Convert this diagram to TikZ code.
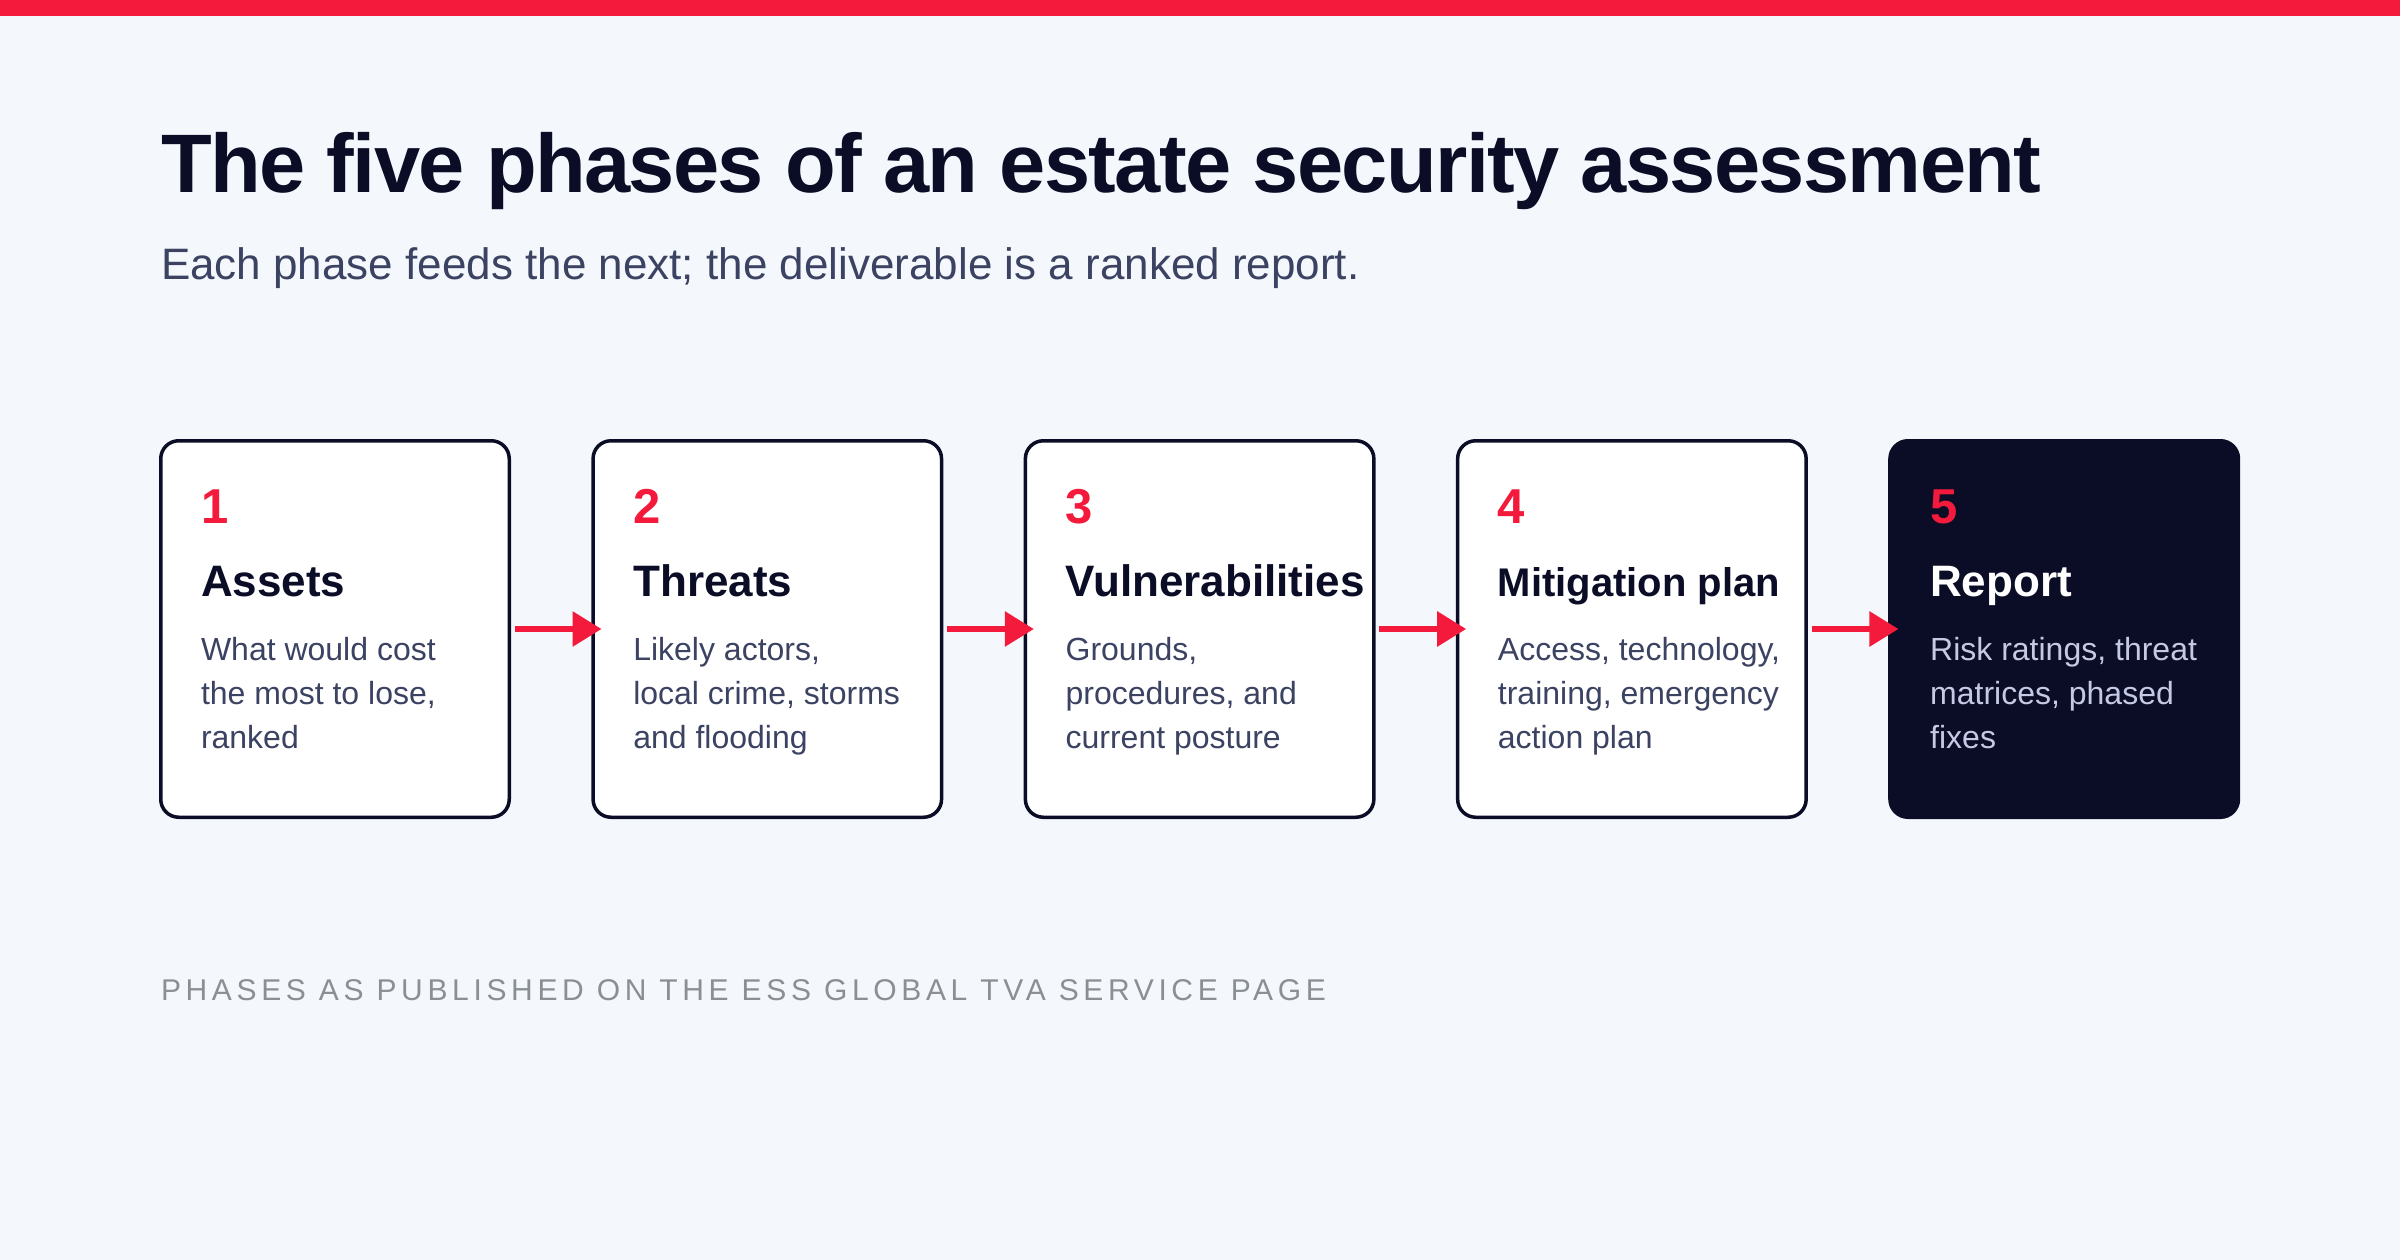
\documentclass[tikz,border=0pt]{standalone}
\usepackage{fontspec}
\setmainfont{Liberation Sans}
\newfontfamily\titlefont{Liberation Sans}[LetterSpace=-2]
\newfontfamily\capfont{Liberation Sans}[LetterSpace=15.5]
\usetikzlibrary{arrows.meta}
\definecolor{bg}{HTML}{F4F8FC}
\definecolor{accent}{HTML}{F41A3B}
\definecolor{navy}{HTML}{0B0D26}
\definecolor{slate}{HTML}{3B4262}
\definecolor{capgray}{HTML}{8A8F95}
\definecolor{lav}{HTML}{C5C9E4}
\tikzset{
  phasebox/.style={draw=navy, line width=3.5pt, rounded corners=18pt, fill=white,
    minimum width=348.5pt, minimum height=376.5pt, outer sep=0pt, inner sep=0pt},
  darkbox/.style={phasebox, fill=navy},
  txt/.style={inner sep=0pt, outer sep=0pt, anchor=base west},
  numtxt/.style={txt, text=accent, font=\fontsize{49}{55}\selectfont\bfseries},
  headtxt/.style={txt, text=navy, font=\fontsize{44}{50}\selectfont\bfseries},
  desctxt/.style={txt, text=slate, font=\fontsize{32}{38}\selectfont},
  flow/.style={draw=accent, line width=6pt, -{Triangle[length=29pt,width=34pt]}},
}
\begin{document}
\begin{tikzpicture}[x=1pt, y=-1pt]
\useasboundingbox (0,0) rectangle (2400,1260);
\fill[bg] (0,0) rectangle (2400,1260);
\fill[accent] (0,0) rectangle (2400,16);
\node[txt, text=navy, font=\fontsize{83}{90}\titlefont\bfseries] (title) at (161,193) {The five phases of an estate security assessment};
\node[txt, text=slate, font=\fontsize{44}{50}\selectfont] (subtitle) at (161,279) {Each phase feeds the next; the deliverable is a ranked report.};
% boxes
\node[phasebox] (b1) at (335,629) {};
\node[phasebox] (b2) at (767.3,629) {};
\node[phasebox] (b3) at (1199.6,629) {};
\node[phasebox] (b4) at (1631.9,629) {};
\node[darkbox] (b5) at (2064.2,629) {};
% arrows
\draw[flow] ([xshift=5.5pt]b1.east) -- ([xshift=8.5pt]b2.west);
\draw[flow] ([xshift=5.5pt]b2.east) -- ([xshift=8.5pt]b3.west);
\draw[flow] ([xshift=5.5pt]b3.east) -- ([xshift=8.5pt]b4.west);
\draw[flow] ([xshift=5.5pt]b4.east) -- ([xshift=8.5pt]b5.west);
% box 1
\node[numtxt] (n1) at (201,523) {1};
\node[headtxt] (h1) at (201,596) {Assets};
\node[desctxt] (d1a) at (201,660) {What would cost};
\node[desctxt] (d1b) at (201,704) {the most to lose,};
\node[desctxt] (d1c) at (201,748) {ranked};
% box 2
\node[numtxt] (n2) at (633.3,523) {2};
\node[headtxt] (h2) at (633.3,596) {Threats};
\node[desctxt] (d2a) at (633.3,660) {Likely actors,};
\node[desctxt] (d2b) at (633.3,704) {local crime, storms};
\node[desctxt] (d2c) at (633.3,748) {and flooding};
% box 3
\node[numtxt] (n3) at (1065.6,523) {3};
\node[headtxt] (h3) at (1065.6,596) {Vulnerabilities};
\node[desctxt] (d3a) at (1065.6,660) {Grounds,};
\node[desctxt] (d3b) at (1065.6,704) {procedures, and};
\node[desctxt] (d3c) at (1065.6,748) {current posture};
% box 4
\node[numtxt] (n4) at (1497.9,523) {4};
\node[headtxt, font=\fontsize{40}{46}\selectfont\bfseries] (h4) at (1497.9,596) {Mitigation plan};
\node[desctxt] (d4a) at (1497.9,660) {Access, technology,};
\node[desctxt] (d4b) at (1497.9,704) {training, emergency};
\node[desctxt] (d4c) at (1497.9,748) {action plan};
% box 5
\node[numtxt] (n5) at (1930.2,523) {5};
\node[headtxt, text=white] (h5) at (1930.2,596) {Report};
\node[desctxt, text=lav] (d5a) at (1930.2,660) {Risk ratings, threat};
\node[desctxt, text=lav] (d5b) at (1930.2,704) {matrices, phased};
\node[desctxt, text=lav] (d5c) at (1930.2,748) {fixes};
% footer
\node[txt, text=capgray, font=\fontsize{30}{36}\capfont] (foot) at (161,1000) {PHASES AS PUBLISHED ON THE ESS GLOBAL TVA SERVICE PAGE};
\end{tikzpicture}
\end{document}
